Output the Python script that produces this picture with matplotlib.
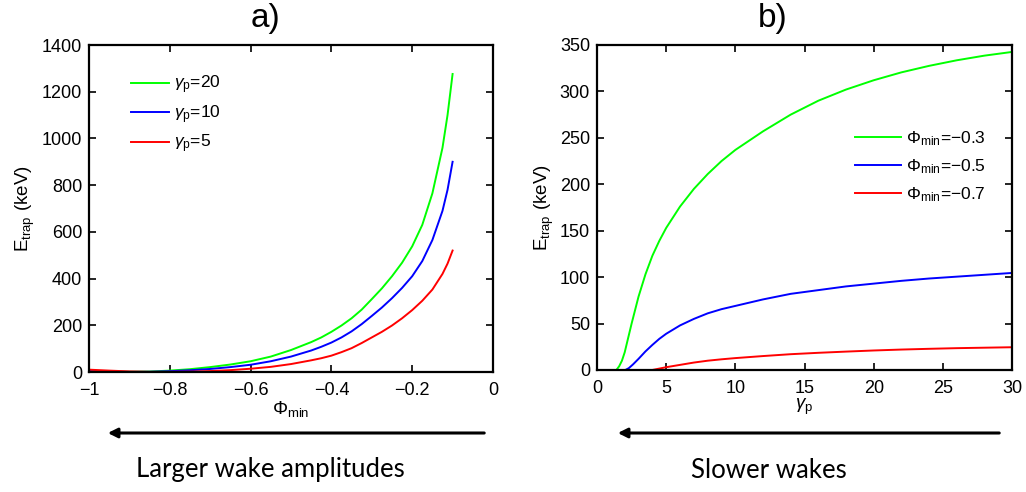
import matplotlib
matplotlib.use("Agg")
import matplotlib.pyplot as plt
from matplotlib.patches import FancyArrowPatch

plt.rcParams["font.family"] = ["Liberation Sans", "DejaVu Sans"]
plt.rcParams["mathtext.fontset"] = "custom"
plt.rcParams["mathtext.rm"] = "Liberation Sans"
plt.rcParams["mathtext.it"] = "Liberation Sans:italic"
plt.rcParams["mathtext.bf"] = "Liberation Sans:bold"

# panel a) : E_trap (keV) vs Phi_min for three gamma_p
phi_min = [-1.0, -0.95, -0.9, -0.85, -0.8, -0.75, -0.7, -0.65, -0.6, -0.55, -0.5,
           -0.45, -0.425, -0.4, -0.375, -0.35, -0.325, -0.3, -0.275, -0.25, -0.225,
           -0.2, -0.175, -0.15, -0.125, -0.1125, -0.1]
e_gp20 = [4, 2, 1, 2, 6, 12, 21, 32, 46, 66, 94,
          128, 148, 172, 199, 230, 267, 312, 358, 410, 468,
          538, 630, 765, 960, 1100, 1276]
e_gp10 = [4, 2, 0.5, 1, 3.5, 7.5, 13, 21, 31, 46, 66,
          92, 108, 126, 148, 174, 205, 240, 276, 316, 360,
          410, 475, 565, 690, 780, 900]
e_gp5 = [10, 6, 2.5, 0.5, 0.5, 1.5, 4, 8, 14, 22, 34,
         50, 59, 70, 85, 102, 124, 148, 172, 199, 230,
         265, 305, 353, 420, 464, 520]

# panel b) : E_trap (keV) vs gamma_p for three Phi_min
gp_03 = [1.4, 1.6, 1.8, 2, 2.5, 3, 3.5, 4, 4.5, 5, 6, 7, 8, 9, 10, 12, 14, 16, 18, 20,
         22, 24, 26, 28, 30]
e_phi03 = [0, 4, 10, 19, 50, 79, 103, 123, 139, 153, 176, 195, 211, 225, 237, 257, 275,
           290, 302, 312, 320.5, 327.5, 333.5, 338.5, 342.5]
gp_05 = [2.05, 2.3, 2.6, 3, 3.5, 4, 4.5, 5, 6, 7, 8, 9, 10, 12, 14, 16, 18, 20,
         22, 24, 26, 28, 30]
e_phi05 = [0, 2, 6, 12, 20, 27, 33.5, 39, 48, 55, 61, 65.5, 69, 76, 82, 86, 90, 93,
           96, 98.5, 100.5, 102.5, 104.5]
gp_07 = [4, 4.5, 5, 6, 7, 8, 9, 10, 12, 14, 16, 18, 20, 22, 24, 26, 28, 30]
e_phi07 = [0, 1.5, 3, 5.5, 8, 10, 11.5, 12.8, 15, 17, 18.5, 19.8, 21, 22, 22.8, 23.5,
           24, 24.5]

GREEN = "#00ff00"
BLUE = "#0000ff"
RED = "#ff0000"
MINUS = "\u2212"


def style_axes(ax):
    for s in ax.spines.values():
        s.set_linewidth(1.6)
    ax.tick_params(direction="in", top=True, right=True, length=5, width=1.2,
                   labelsize=13)
    ax.tick_params(axis="y", pad=5)
    ax.tick_params(axis="x", pad=7)


fig = plt.figure(figsize=(10.26, 4.92), dpi=100)

ax1 = fig.add_axes([0.0867, 0.2439, 0.3938, 0.6646])
ax1.plot(phi_min, e_gp20, color=GREEN, lw=1.4, label=r"$\gamma_{\mathrm{p}}$=20")
ax1.plot(phi_min, e_gp10, color=BLUE, lw=1.4, label=r"$\gamma_{\mathrm{p}}$=10")
ax1.plot(phi_min, e_gp5, color=RED, lw=1.4, label=r"$\gamma_{\mathrm{p}}$=5")
ax1.set_xlim(-1, 0)
ax1.set_ylim(0, 1400)
ax1.set_xticks([-1, -0.8, -0.6, -0.4, -0.2, 0])
ax1.set_xticklabels([MINUS + "1", MINUS + "0.8", MINUS + "0.6", MINUS + "0.4",
                     MINUS + "0.2", "0"])
ax1.set_yticks(range(0, 1401, 200))
ax1.set_xlabel(r"$\mathrm{\Phi_{min}}$", fontsize=13.5, labelpad=0)
ax1.set_ylabel(r"$\mathrm{E_{trap}}$ (keV)", fontsize=13.5, labelpad=3)
style_axes(ax1)
ax1.legend(loc="upper left", frameon=False, fontsize=12.5, handlelength=2.2,
           handletextpad=0.3, bbox_to_anchor=(0.065, 0.96), labelspacing=0.4)

ax2 = fig.add_axes([0.5819, 0.2480, 0.4045, 0.6606])
ax2.plot(gp_03, e_phi03, color=GREEN, lw=1.4,
         label=r"$\mathrm{\Phi_{min}}$=" + MINUS + "0.3")
ax2.plot(gp_05, e_phi05, color=BLUE, lw=1.4,
         label=r"$\mathrm{\Phi_{min}}$=" + MINUS + "0.5")
ax2.plot(gp_07, e_phi07, color=RED, lw=1.4,
         label=r"$\mathrm{\Phi_{min}}$=" + MINUS + "0.7")
ax2.set_xlim(0, 30)
ax2.set_ylim(0, 350)
ax2.set_xticks(range(0, 31, 5))
ax2.set_yticks(range(0, 351, 50))
ax2.set_xlabel(r"$\gamma_{\mathrm{p}}$", fontsize=13.5, labelpad=0)
ax2.set_ylabel(r"$\mathrm{E_{trap}}$ (keV)", fontsize=13.5, labelpad=3)
style_axes(ax2)
ax2.legend(loc="upper left", frameon=False, fontsize=12.5, handlelength=2.6,
           handletextpad=0.3, bbox_to_anchor=(0.585, 0.79), labelspacing=0.55)

# panel letters
fig.text(265 / 1026, 1 - 19 / 492, "a)", fontsize=24, ha="center", va="center")
fig.text(773 / 1026, 1 - 19 / 492, "b)", fontsize=24, ha="center", va="center")

# arrows and captions underneath
arrow = dict(arrowstyle="-|>", lw=2.2, color="black", mutation_scale=14)
fig.add_artist(FancyArrowPatch((487 / 1026, 1 - 433 / 492), (105 / 1026, 1 - 433 / 492),
                               transform=fig.transFigure, **arrow))
fig.add_artist(FancyArrowPatch((1002 / 1026, 1 - 433 / 492), (615 / 1026, 1 - 433 / 492),
                               transform=fig.transFigure, **arrow))
fig.text(270 / 1026, 1 - 470 / 492, "Larger wake amplitudes", fontsize=18.5,
         family="Lato", ha="center", va="center")
fig.text(769 / 1026, 1 - 470 / 492, "Slower wakes", fontsize=18.5,
         family="Lato", ha="center", va="center")

fig.savefig("out.png", dpi=100)
